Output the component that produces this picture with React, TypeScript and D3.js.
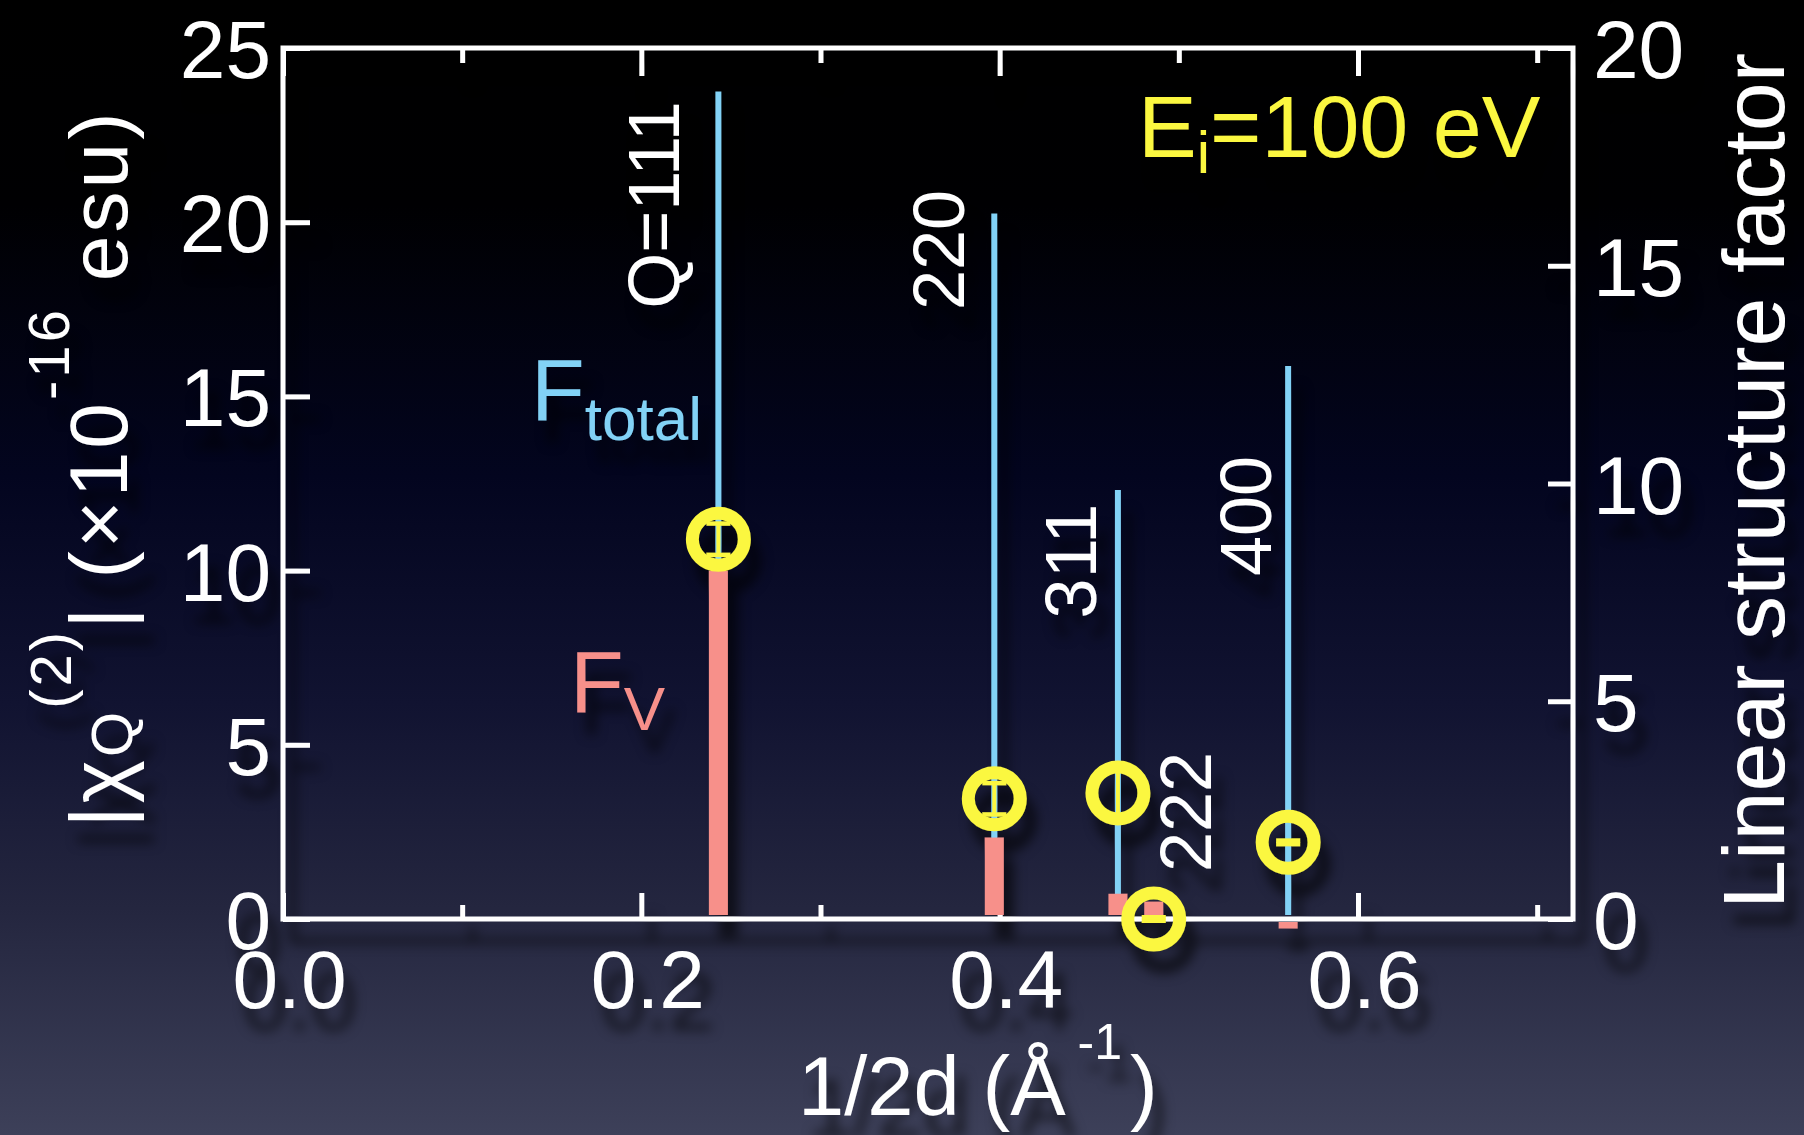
import React, { useEffect, useRef } from 'react';
import * as d3 from 'd3';

// reflections (diamond), position on 1/2d axis
const reflections = ['Q=111', '220', '311', '222', '400'];
const invTwoD = [0.243, 0.397, 0.466, 0.486, 0.561];
// linear structure factors (right axis)
const fTotal = [19.0, 16.2, 9.85, 0, 12.7];
const fV = [8.0, 1.87, 0.58, 0.4, -0.15];
// |chi^(2)| in 1e-16 esu (left axis)
const chi2 = [10.9, 3.45, 3.62, 0.0, 2.2];
const chi2Err = [0.45, 0.45, 0.75, 0.05, 0.05];

const xMajor = [0, 0.2, 0.4, 0.6];
const xMinor = [0.1, 0.3, 0.5, 0.7];
const leftTicks = [0, 5, 10, 15, 20, 25];
const rightTicks = [0, 5, 10, 15, 20];

// where each reflection label sits: offset from its stem, and y on screen
const labelPos = [[-39, 205], [-30, 250], [-22, 561], [57, 812], [-17, 516]];

const W = 1804, H = 1135;
const BLUE = '#82d2f6', PINK = '#f7908a', YELLOW = '#fbf73f';
const FONT = '"Liberation Sans", Arial, Helvetica, sans-serif';

export default function App() {
  const ref = useRef(null);

  useEffect(() => {
    const m = { left: 283, right: 1573, top: 48, bottom: 919 };
    const svg = d3.select(ref.current);
    svg.selectAll('*').remove();

    const defs = svg.append('defs');
    const grad = defs.append('linearGradient').attr('id', 'bg')
      .attr('x1', 0).attr('y1', 0).attr('x2', 0).attr('y2', 1);
    [[0, '#000000'], [0.18, '#000002'], [0.42, '#03051f'], [0.62, '#111331'], [0.8, '#24263f'], [1, '#3d4059']]
      .forEach(([o, c]) => grad.append('stop').attr('offset', o).attr('stop-color', c));
    defs.append('filter').attr('id', 'shadow')
      .attr('x', '-10%').attr('y', '-10%').attr('width', '130%').attr('height', '130%')
      .append('feDropShadow')
      .attr('dx', 10).attr('dy', 22).attr('stdDeviation', 6)
      .attr('flood-color', '#000').attr('flood-opacity', 0.6);

    svg.append('rect').attr('width', W).attr('height', H).attr('fill', 'url(#bg)');

    const x = d3.scaleLinear().domain([0, 0.72]).range([m.left, m.right]);
    const yL = d3.scaleLinear().domain([0, 25]).range([m.bottom, m.top]);
    const yR = d3.scaleLinear().domain([0, 20]).range([m.bottom, m.top]);

    const g = svg.append('g').attr('filter', 'url(#shadow)')
      .style('font-family', FONT);

    const styleAxis = (sel, size) => {
      sel.select('.domain').remove();
      sel.selectAll('line').attr('stroke', '#fff').attr('stroke-width', 5);
      sel.selectAll('text').attr('fill', '#fff').attr('font-size', size)
        .style('font-family', FONT);
    };

    // bottom / top
    g.append('g').attr('transform', `translate(0,${m.bottom})`)
      .call(d3.axisBottom(x).tickValues(xMajor).tickSize(-26).tickPadding(31).tickFormat(d3.format('.1f')))
      .call(s => styleAxis(s, 82))
      .call(s => s.selectAll('text').attr('dx', 6));
    g.append('g').attr('transform', `translate(0,${m.bottom})`)
      .call(d3.axisBottom(x).tickValues(xMinor).tickSize(-14).tickFormat(() => ''))
      .call(s => styleAxis(s, 10));
    g.append('g').attr('transform', `translate(0,${m.top})`)
      .call(d3.axisTop(x).tickValues(xMajor).tickSize(-28).tickFormat(() => ''))
      .call(s => styleAxis(s, 10));
    g.append('g').attr('transform', `translate(0,${m.top})`)
      .call(d3.axisTop(x).tickValues(xMinor).tickSize(-15).tickFormat(() => ''))
      .call(s => styleAxis(s, 10));
    // left / right
    g.append('g').attr('transform', `translate(${m.left},0)`)
      .call(d3.axisLeft(yL).tickValues(leftTicks).tickSize(-27).tickPadding(12))
      .call(s => styleAxis(s, 82))
      .call(s => s.selectAll('text').attr('dy', '0.36em'));
    g.append('g').attr('transform', `translate(${m.right},0)`)
      .call(d3.axisRight(yR).tickValues(rightTicks).tickSize(-25).tickPadding(20))
      .call(s => styleAxis(s, 82))
      .call(s => s.selectAll('text').attr('dy', '0.36em'));

    g.append('rect')
      .attr('x', m.left).attr('y', m.top)
      .attr('width', m.right - m.left).attr('height', m.bottom - m.top)
      .attr('fill', 'none').attr('stroke', '#fff').attr('stroke-width', 5);

    const idx = d3.range(invTwoD.length);

    // F_total stems
    g.append('g').selectAll('line').data(idx.filter(i => fTotal[i] > 0)).join('line')
      .attr('x1', i => x(invTwoD[i])).attr('x2', i => x(invTwoD[i]))
      .attr('y1', yR(0) - 4).attr('y2', i => yR(fTotal[i]))
      .attr('stroke', BLUE).attr('stroke-width', 6);

    // F_V bars
    g.append('g').selectAll('rect').data(idx).join('rect')
      .attr('x', i => x(invTwoD[i]) - 9.5).attr('width', 19)
      .attr('y', i => (fV[i] >= 0 ? yR(fV[i]) : yR(0) + 3))
      .attr('height', i => (fV[i] >= 0 ? yR(0) - 4 - yR(fV[i]) : yR(fV[i]) - yR(0)))
      .attr('fill', PINK);

    // chi2 markers with error bars
    const pts = g.append('g').selectAll('g').data(idx).join('g')
      .attr('transform', i => `translate(${x(invTwoD[i])},0)`);
    pts.append('line')
      .attr('y1', i => yL(chi2[i] - chi2Err[i])).attr('y2', i => yL(chi2[i] + chi2Err[i]))
      .attr('stroke', YELLOW).attr('stroke-width', 4);
    [-1, 1].forEach(sgn => {
      pts.append('line').attr('x1', -12).attr('x2', 12)
        .attr('y1', i => yL(chi2[i] + sgn * chi2Err[i])).attr('y2', i => yL(chi2[i] + sgn * chi2Err[i]))
        .attr('stroke', YELLOW).attr('stroke-width', 4.5);
    });
    pts.append('circle').attr('cy', i => yL(chi2[i])).attr('r', 26)
      .attr('fill', 'none').attr('stroke', YELLOW).attr('stroke-width', 13);

    // reflection labels
    g.append('g').selectAll('text').data(idx).join('text')
      .attr('transform', i => `translate(${x(invTwoD[i]) + labelPos[i][0]},${labelPos[i][1]}) rotate(-90)`)
      .attr('text-anchor', 'middle').attr('font-size', 72).attr('fill', '#fff')
      .text(i => reflections[i]);

    // series labels
    const ft = g.append('text').attr('x', 531).attr('y', 420).attr('fill', BLUE).attr('font-size', 88);
    ft.append('tspan').text('F');
    ft.append('tspan').attr('font-size', 62).attr('dy', 20).text('total');
    const fv = g.append('text').attr('x', 570).attr('y', 712).attr('fill', PINK).attr('font-size', 88);
    fv.append('tspan').text('F');
    fv.append('tspan').attr('font-size', 62).attr('dy', 18).text('V');

    const ei = g.append('text').attr('x', 1138).attr('y', 157).attr('fill', YELLOW).attr('font-size', 88);
    ei.append('tspan').text('E');
    ei.append('tspan').attr('font-size', 60).attr('dy', 16).text('i');
    ei.append('tspan').attr('dy', -16).text('=100 eV');

    // axis titles
    const xt = g.append('text').attr('x', 798).attr('y', 1115).attr('fill', '#fff').attr('font-size', 83);
    xt.append('tspan').text('1/2d (Å');
    xt.append('tspan').attr('font-size', 50).attr('dx', 12).attr('dy', -56).text('-1');
    xt.append('tspan').attr('dx', 8).attr('dy', 56).text(')');

    const yl = g.append('text').attr('transform', 'translate(127,470) rotate(-90)')
      .attr('text-anchor', 'middle').attr('fill', '#fff').attr('font-size', 82)
      .attr('textLength', 715).attr('lengthAdjust', 'spacing');
    yl.append('tspan').text('|χ');
    yl.append('tspan').attr('font-size', 58).attr('dy', 5).text('Q');
    yl.append('tspan').attr('font-size', 58).attr('dy', -61).text('(2)');
    yl.append('tspan').attr('dy', 56).text('| (×10');
    yl.append('tspan').attr('font-size', 58).attr('dy', -58).text('-16');
    yl.append('tspan').attr('dy', 58).text(' esu)');

    g.append('text').attr('transform', 'translate(1784,481) rotate(-90)')
      .attr('text-anchor', 'middle').attr('fill', '#fff').attr('font-size', 88)
      .text('Linear structure factor');
  }, []);

  return (
    <svg ref={ref} width={W} height={H}
      style={{ position: 'absolute', left: 0, top: 0, display: 'block' }} />
  );
}
